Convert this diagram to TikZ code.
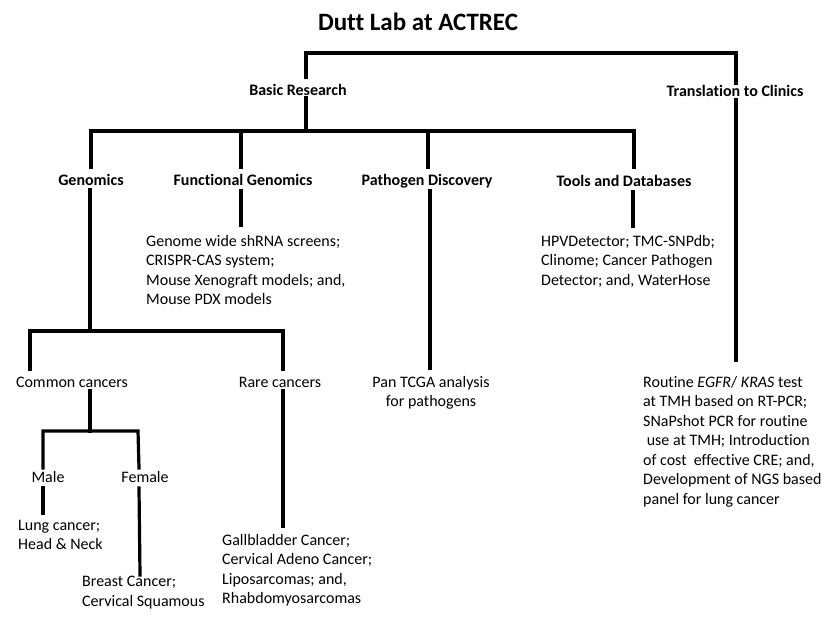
\documentclass[tikz,border=0pt]{standalone}
\usepackage{fontspec}
\setmainfont{Carlito}[Ligatures=NoCommon]
\begin{document}
\begin{tikzpicture}[x=1pt,y=-1pt,
  conn/.style={line width=3.2pt,line join=miter,line cap=rect},
  head/.style={font=\bfseries\fontsize{16}{19.5}\selectfont,inner sep=0pt,anchor=base},
  lbl/.style={font=\fontsize{16}{19.5}\selectfont,inner sep=0pt,anchor=base},
  block/.style={font=\fontsize{16}{19.5}\selectfont,inner sep=0pt,anchor=north west,align=left},
  cblock/.style={font=\fontsize{16}{19.5}\selectfont,inner sep=0pt,anchor=north,align=center}]
\useasboundingbox[fill=white] (0,0) rectangle (830,635);
% titles
\node[font=\bfseries\fontsize{25}{30}\selectfont,inner sep=0pt,anchor=base] (title) at (418,30) {Dutt Lab at ACTREC};
\node[head] (br) at (298,95) {Basic Research};
\node[head] (tc) at (735,96) {Translation to Clinics};
\node[head] (gen) at (91,185) {Genomics};
\node[head] (fg) at (243,185) {Functional Genomics};
\node[head] (pd) at (427,185) {Pathogen Discovery};
\node[head] (td) at (624,186) {Tools and Databases};
% second level text
\node[block] (fgt) at (146,235) {Genome wide shRNA screens;\\CRISPR-CAS system;\\Mouse Xenograft models; and,\\Mouse PDX models};
\node[block] (tdt) at (541,235) {HPVDetector; TMC-SNPdb;\\Clinome; Cancer Pathogen\\Detector; and, WaterHose};
\node[cblock] (pdt) at (431,376) {Pan TCGA analysis\\for pathogens};
\node[block] (tct) at (643,376) {Routine \textit{EGFR}/ \textit{KRAS} test\\at TMH based on RT-PCR;\\SNaPshot PCR for routine\\\ use at TMH; Introduction\\of cost\ \ effective CRE; and,\\Development of NGS based\\panel for lung cancer};
\node[lbl] (cc) at (72,387) {Common cancers};
\node[lbl] (rc) at (280,387) {Rare cancers};
\node[lbl] (male) at (48,482) {Male};
\node[lbl] (female) at (145,482) {Female};
\node[block] (malet) at (18,520) {Lung cancer;\\Head \& Neck};
\node[block] (femt) at (82,576) {Breast Cancer;\\Cervical Squamous};
\node[block] (rct) at (222,534) {Gallbladder Cancer;\\Cervical Adeno Cancer;\\Liposarcomas; and,\\Rhabdomyosarcomas};
% connectors
\coordinate (top1) at (306,53);
\coordinate (top2) at (736,53);
\draw[conn] (306,77) -- (top1) -- (top2) -- (736,83);
\draw[conn] (306,98) -- (306,131);
\draw[conn] (91,167) -- (91,131) -- (634,131) -- (634,167);
\draw[conn] (241,131) -- (241,167);
\draw[conn] (428,131) -- (428,167);
\draw[conn] (90,190) -- (90,331);
\draw[conn] (30,369) -- (30,331) -- (283,331) -- (283,369);
\draw[conn] (241,191) -- (241,225);
\draw[conn] (430,191) -- (430,368);
\draw[conn] (633,192) -- (633,226);
\draw[conn] (736,100) -- (736,360);
\draw[conn] (90,391) -- (90,431);
\draw[conn] (43,468) -- (43,431) -- (138,431) -- (139,468);
\draw[conn] (43,488) -- (43,513);
\draw[conn] (139,488) -- (140,575);
\draw[conn] (283,391) -- (283,526);
\end{tikzpicture}
\end{document}
